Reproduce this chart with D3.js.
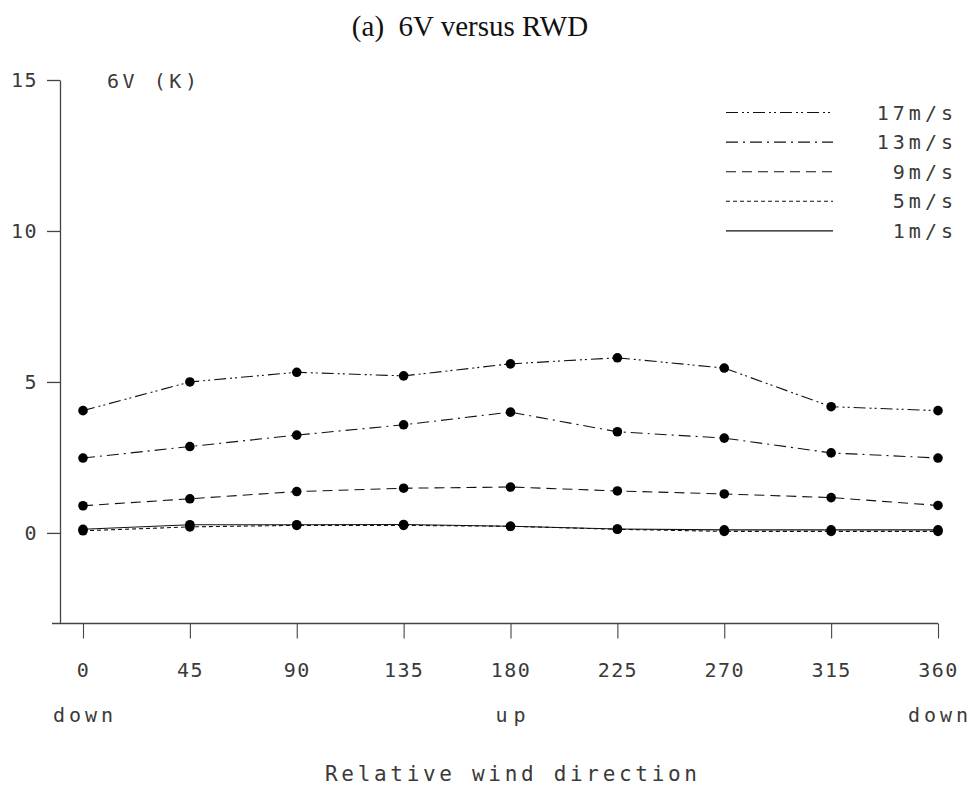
<!DOCTYPE html>
<html>
<head>
<meta charset="utf-8">
<script src="https://cdn.jsdelivr.net/npm/d3@7"></script>
<style>
body { margin: 0; background: #fff; }
.plot { font-family: "DejaVu Sans Mono", "Liberation Mono", monospace; font-size: 20px; fill: #3a3a3a; font-variant-numeric: slashed-zero; }
</style>
</head>
<body>
<script>
"use strict";
const angles = [0, 45, 90, 135, 180, 225, 270, 315, 360];
const yTicks = [0, 5, 10, 15];
const speeds = ["17m/s", "13m/s", "9m/s", "5m/s", "1m/s"];
const v17 = [4.05, 5.0, 5.32, 5.2, 5.6, 5.8, 5.46, 4.18, 4.05];
const v13 = [2.48, 2.86, 3.24, 3.58, 4.0, 3.35, 3.14, 2.65, 2.48];
const v9 = [0.9, 1.13, 1.37, 1.48, 1.52, 1.39, 1.29, 1.17, 0.91];
const v5 = [0.07, 0.2, 0.25, 0.25, 0.22, 0.12, 0.05, 0.05, 0.05];
const v1 = [0.12, 0.27, 0.27, 0.28, 0.22, 0.13, 0.1, 0.1, 0.1];
const dirLabels = [[0, "down"], [180, "up"], [360, "down"]];

const w = 974, h = 787;
const series = [v17, v13, v9, v5, v1];
const dashes = ["12,4,2,3,2,4", "12,5,2,5", "10,6", "4,3", null];

const svg = d3.select("body").append("svg").attr("width", w).attr("height", h);
const x = d3.scaleLinear().domain([0, 360]).range([83, 938]);
const y = d3.scaleLinear().domain([-3, 15]).range([623.5, 80]);

svg.append("text").attr("x", 470).attr("y", 36).attr("text-anchor", "middle")
	.style("font-family", "'Liberation Serif', 'Times New Roman', serif").style("font-size", "29px").attr("fill", "#111")
	.attr("xml:space", "preserve").text("(a)  6V versus RWD");

const yAxis = svg.append("g").attr("transform", "translate(60,0)")
	.call(d3.axisLeft(y).tickValues(yTicks).tickSize(13).tickSizeOuter(0).tickPadding(9));
yAxis.selectAll("path, line").attr("stroke", "#444").attr("stroke-width", 1.3);
yAxis.selectAll("text").attr("class", "plot").attr("font-size", null).attr("font-family", null).attr("letter-spacing", 1.5);

const xAxis = svg.append("g").attr("transform", "translate(0,623.5)")
	.call(d3.axisBottom(x).tickValues(angles).tickSize(15).tickSizeOuter(0));
xAxis.select(".domain").remove();
xAxis.selectAll("line").attr("stroke", "#444").attr("stroke-width", 1.1);
xAxis.selectAll("text").attr("class", "plot").attr("font-size", null).attr("font-family", null)
	.attr("y", 53).attr("dy", 0).attr("letter-spacing", 1.4);
svg.append("line").attr("x1", 52).attr("x2", x(360)).attr("y1", 623.5).attr("y2", 623.5)
	.attr("stroke", "#444").attr("stroke-width", 1.3);

svg.selectAll(".dir").data(dirLabels).enter().append("text").attr("class", "plot dir")
	.attr("x", d => x(d[0]) - d[1].length * 7.5).attr("y", 722)
	.attr("textLength", d => d[1].length * 15).attr("lengthAdjust", "spacing").text(d => d[1]);

svg.append("text").attr("class", "plot").attr("x", 325).attr("y", 781).style("font-size", "21px")
	.attr("textLength", 372).attr("lengthAdjust", "spacing").text("Relative wind direction");

svg.append("text").attr("class", "plot").attr("x", 107).attr("y", 88)
	.attr("textLength", 90).attr("lengthAdjust", "spacing").text("6V (K)");

const line = d3.line().x((d, i) => x(angles[i])).y(d => y(d));
series.forEach((s, k) => {
	svg.append("path").datum(s).attr("d", line).attr("fill", "none").attr("stroke", "#111")
		.attr("stroke-width", 1.1).attr("stroke-dasharray", dashes[k]);
	svg.selectAll(".dot" + k).data(s).enter().append("circle").attr("class", "dot" + k)
		.attr("cx", (d, i) => x(angles[i])).attr("cy", d => y(d)).attr("r", 4.8).attr("fill", "#000");
});

const legend = svg.append("g");
speeds.forEach((s, k) => {
	const ly = 112.5 + k * 29.6;
	legend.append("line").attr("x1", 726).attr("x2", 833).attr("y1", ly).attr("y2", ly)
		.attr("stroke", "#111").attr("stroke-width", 1.1).attr("stroke-dasharray", dashes[k]);
	legend.append("text").attr("class", "plot").attr("x", 957).attr("y", ly + 7).attr("text-anchor", "end")
		.attr("letter-spacing", 4).text(s);
});
</script>
</body>
</html>
